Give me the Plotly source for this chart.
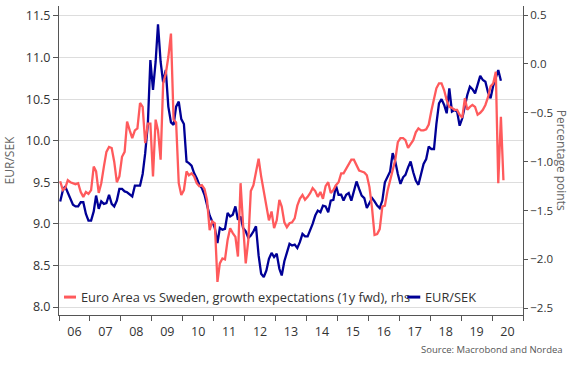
import pandas as pd
import plotly.graph_objects as go

# EUR/SEK (lhs), monthly from Jan 2006
eursek = [
    9.27, 9.40, 9.45, 9.37, 9.29, 9.23, 9.21, 9.21, 9.26, 9.26, 9.12, 9.04,
    9.04, 9.15, 9.34, 9.18, 9.27, 9.24, 9.25, 9.35, 9.24, 9.21, 9.28, 9.42,
    9.42, 9.39, 9.38, 9.36, 9.33, 9.46, 9.46, 9.46, 9.60, 9.85, 10.20, 10.97,
    10.61, 10.95, 11.40, 10.95, 10.70, 10.85, 10.41, 10.22, 10.19, 10.41, 10.47, 10.26,
    10.20, 9.75, 9.73, 9.70, 9.61, 9.55, 9.47, 9.43, 9.35, 9.21, 9.10, 9.03,
    8.95, 8.77, 8.95, 8.93, 8.94, 9.13, 9.09, 9.11, 9.21, 9.05, 9.09, 8.95,
    8.91, 8.83, 8.86, 8.91, 8.97, 8.62, 8.40, 8.36, 8.44, 8.58, 8.65, 8.60,
    8.64, 8.46, 8.38, 8.55, 8.64, 8.76, 8.74, 8.75, 8.71, 8.78, 8.88, 8.85,
    8.85, 8.92, 9.00, 9.10, 9.16, 9.14, 9.22, 9.21, 9.14, 9.28, 9.29, 9.46,
    9.35, 9.35, 9.28, 9.35, 9.37, 9.28, 9.40, 9.51, 9.42, 9.34, 9.31, 9.19,
    9.25, 9.31, 9.27, 9.22, 9.19, 9.28, 9.50, 9.56, 9.63, 9.85, 9.75, 9.60,
    9.48, 9.56, 9.59, 9.68, 9.75, 9.62, 9.52, 9.47, 9.60, 9.72, 9.78, 9.93,
    9.90, 9.90, 10.20, 10.45, 10.50, 10.43, 10.33, 10.63, 10.35, 10.37, 10.35, 10.18,
    10.27, 10.42, 10.55, 10.65, 10.62, 10.57, 10.68, 10.78, 10.73, 10.71, 10.58, 10.51,
    10.66, 10.77, 10.85, 10.72,
]

# Euro Area vs Sweden growth expectations (1y fwd), percentage points (rhs)
growth_gap = [
    -1.20, -1.29, -1.27, -1.19, -1.21, -1.22, -1.23, -1.22, -1.31, -1.36, -1.31, -1.33,
    -1.29, -1.05, -1.10, -1.32, -1.22, -1.05, -0.90, -0.85, -0.86, -1.00, -1.21, -1.15,
    -0.95, -0.90, -0.59, -0.68, -0.76, -0.68, -0.66, -0.40, -0.44, -0.81, -0.61, -0.61,
    -1.15, -0.57, -0.68, -0.98, -0.20, -0.10, 0.07, 0.31, -0.57, -0.60, -1.22, -1.34,
    -1.29, -1.10, -1.14, -1.12, -1.15, -1.22, -1.25, -1.24, -1.28, -1.39, -1.70, -1.61,
    -1.63, -2.23, -2.04, -1.99, -2.00, -1.80, -1.68, -1.73, -1.77, -1.97, -1.22, -1.65,
    -2.04, -1.80, -1.30, -1.24, -1.10, -0.97, -1.15, -1.30, -1.45, -1.60, -1.51, -1.68,
    -1.60, -1.39, -1.46, -1.62, -1.67, -1.63, -1.62, -1.58, -1.45, -1.38, -1.34, -1.39,
    -1.36, -1.32, -1.27, -1.30, -1.36, -1.31, -1.38, -1.25, -1.21, -1.32, -1.29, -1.24,
    -1.21, -1.12, -1.12, -1.07, -1.02, -0.98, -0.98, -1.04, -1.09, -1.10, -1.11, -1.14,
    -1.26, -1.48, -1.75, -1.74, -1.69, -1.46, -1.45, -1.30, -1.20, -1.08, -0.98, -0.80,
    -0.76, -0.76, -0.78, -0.86, -0.82, -0.78, -0.70, -0.66, -0.68, -0.68, -0.67, -0.62,
    -0.48, -0.37, -0.25, -0.20, -0.20, -0.27, -0.37, -0.44, -0.45, -0.47, -0.47, -0.52,
    -0.55, -0.35, -0.47, -0.44, -0.42, -0.44, -0.52, -0.50, -0.47, -0.42, -0.34, -0.23,
    -0.20, -0.08, -1.22, -0.54, -1.19,
]

left_ticks = [8.0, 8.5, 9.0, 9.5, 10.0, 10.5, 11.0, 11.5]
right_ticks = [-2.5, -2.0, -1.5, -1.0, -0.5, 0.0, 0.5]

names = ["Euro Area vs Sweden, growth expectations (1y fwd), rhs", "EUR/SEK"]

dates_fx = pd.date_range("2006-01-01", periods=len(eursek), freq="MS") + pd.Timedelta(days=14)
dates_gg = pd.date_range("2006-01-01", periods=len(growth_gap), freq="MS") + pd.Timedelta(days=14)

RED = "#FF5A5C"
BLUE = "#000096"
AXIS = "#555555"
FONT = "Open Sans"

fig = go.Figure()
fig.add_trace(go.Scatter(
    x=dates_gg, y=growth_gap, yaxis="y2", mode="lines", name=names[0],
    line=dict(color=RED, width=2.3), showlegend=False,
))
fig.add_trace(go.Scatter(
    x=dates_fx, y=eursek, yaxis="y", mode="lines", name=names[1],
    line=dict(color=BLUE, width=2.3), showlegend=False,
))

# Legend drawn as paper-space line samples + text (matches short swatches)
LEG_Y = 0.058
legend_items = [
    (0.0108, 0.0367, 0.0431, names[0], RED),
    (0.7505, 0.7786, 0.7850, names[1], BLUE),
]
shapes = []
annotations = []
for x0, x1, xt, label, col in legend_items:
    shapes.append(dict(type="line", xref="paper", yref="paper",
                       x0=x0, x1=x1, y0=LEG_Y, y1=LEG_Y,
                       line=dict(color=col, width=3)))
    annotations.append(dict(text=label, xref="paper", yref="paper",
                            x=xt, y=LEG_Y, xanchor="left", yanchor="middle",
                            showarrow=False,
                            font=dict(size=12.8, color="#333333")))

annotations += [
    dict(text="Percentage points", xref="paper", yref="paper",
         x=1.0835, y=0.5, xanchor="center", yanchor="middle",
         textangle=90, showarrow=False,
         font=dict(size=12, color="#666666")),
    dict(text="Source: Macrobond and Nordea", xref="paper", yref="paper",
         x=1.091, y=-0.113, xanchor="right", yanchor="middle",
         showarrow=False, font=dict(size=9.5, color="#555555")),
]

fig.update_layout(
    width=579, height=367,
    margin=dict(l=59, r=56, t=6, b=52),
    paper_bgcolor="white", plot_bgcolor="white",
    font=dict(family=FONT, size=12, color="#333333"),
    showlegend=False,
    xaxis=dict(
        type="date", range=["2006-01-01", "2021-01-01"],
        tick0="2006-01-01", dtick="M12", tickformat="%y", ticklabelmode="period",
        ticks="outside", ticklen=5, tickcolor=AXIS,
        showline=True, linecolor=AXIS, linewidth=1,
        showgrid=False, zeroline=False,
        tickfont=dict(size=12.5, color="#333333"),
    ),
    yaxis=dict(
        range=[7.904, 11.62], tickvals=left_ticks, tickformat=".1f",
        ticks="outside", ticklen=5, tickcolor=AXIS,
        showline=True, linecolor=AXIS, linewidth=1,
        showgrid=True, gridcolor="#dddddd", gridwidth=1, zeroline=False,
        title=dict(text="EUR/SEK", font=dict(size=12, color="#666666"), standoff=8),
        tickfont=dict(size=12.5, color="#333333"),
    ),
    yaxis2=dict(
        range=[-2.568, 0.592], tickvals=right_ticks, tickformat=".1f",
        overlaying="y", side="right",
        ticks="outside", ticklen=4, tickcolor=AXIS,
        showline=True, linecolor=AXIS, linewidth=1,
        showgrid=False, zeroline=False,
        tickfont=dict(size=11.5, color="#333333"),
    ),
    shapes=shapes,
    annotations=annotations,
)

fig.write_html("out.html", config={"displayModeBar": False},
               post_script="document.body.style.margin='0px';")
